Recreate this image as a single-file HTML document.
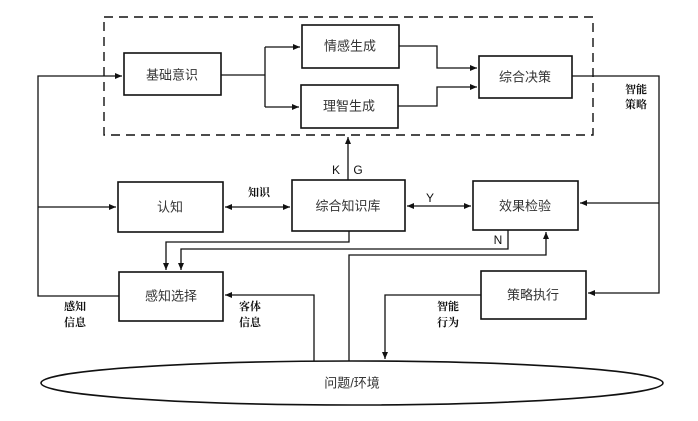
<!DOCTYPE html>
<html><head><meta charset="utf-8"><style>
html,body{margin:0;padding:0;background:#fff;}
svg{display:block;}
.b{fill:#fff;stroke:#111;stroke-width:1.6;}
.l{fill:none;stroke:#111;stroke-width:1.3;}
.t{font-family:"Liberation Sans","Noto Sans CJK SC",sans-serif;font-size:13px;fill:#333;text-anchor:middle;dominant-baseline:central;}
.s{font-family:"Liberation Serif","Noto Serif CJK SC",serif;font-size:11px;font-weight:bold;fill:#111;text-anchor:middle;dominant-baseline:central;}
.k{font-family:"Liberation Sans",sans-serif;font-size:12px;fill:#111;text-anchor:middle;dominant-baseline:central;}
</style></head><body>
<svg width="698" height="421" viewBox="0 0 698 421">
<defs><marker id="a" markerWidth="8" markerHeight="8" refX="7" refY="4" orient="auto-start-reverse" markerUnits="userSpaceOnUse"><path d="M0,1 L7,4 L0,7 z" fill="#111"/></marker></defs>
<rect x="104" y="17" width="489" height="118" fill="none" stroke="#111" stroke-width="1.4" stroke-dasharray="9,6"/>
<rect class="b" x="124" y="53" width="97" height="42"/><text class="t" x="172" y="75">基础意识</text>
<rect class="b" x="302" y="25" width="97" height="43"/><text class="t" x="350" y="46">情感生成</text>
<rect class="b" x="301" y="85" width="97" height="43"/><text class="t" x="349" y="106">理智生成</text>
<rect class="b" x="479" y="56" width="93" height="42"/><text class="t" x="525" y="77">综合决策</text>
<rect class="b" x="118" y="182" width="105" height="50"/><text class="t" x="170" y="207">认知</text>
<rect class="b" x="292" y="180" width="113" height="51"/><text class="t" x="348" y="206">综合知识库</text>
<rect class="b" x="473" y="181" width="105" height="49"/><text class="t" x="525" y="206">效果检验</text>
<rect class="b" x="119" y="272" width="104" height="49"/><text class="t" x="171" y="296">感知选择</text>
<rect class="b" x="481" y="271" width="105" height="48"/><text class="t" x="533" y="295">策略执行</text>
<ellipse cx="352" cy="383" rx="311" ry="22" class="b" stroke-width="1.3"/><text class="t" x="352" y="383">问题/环境</text>
<!-- top flows -->
<path class="l" d="M221 75 H265"/>
<path class="l" d="M265 47 V107"/>
<path class="l" d="M265 47 H300" marker-end="url(#a)"/>
<path class="l" d="M265 107 H299" marker-end="url(#a)"/>
<path class="l" d="M399 46 H437 V68 H477" marker-end="url(#a)"/>
<path class="l" d="M398 106 H437 V87 H477" marker-end="url(#a)"/>
<path class="l" d="M572 76 H659 V293 H588" marker-end="url(#a)"/>
<path class="l" d="M659 203 H580" marker-end="url(#a)"/>
<!-- left loop -->
<path class="l" d="M119 296 H38 V76 H122" marker-end="url(#a)"/>
<path class="l" d="M38 207 H116" marker-end="url(#a)"/>
<!-- KG -->
<path class="l" d="M348 180 V137" marker-end="url(#a)"/>
<text class="k" x="336" y="170">K</text><text class="k" x="358" y="170">G</text>
<path class="l" d="M225 207 H290" marker-start="url(#a)" marker-end="url(#a)"/>
<text class="s" x="259" y="193">知识</text>
<path class="l" d="M407 206 H471" marker-start="url(#a)" marker-end="url(#a)"/>
<text class="k" x="430" y="198">Y</text>
<path class="l" d="M349 231 V242 H166 V270" marker-end="url(#a)"/>
<path class="l" d="M508 230 V249 H181 V270" marker-end="url(#a)"/>
<text class="k" x="498" y="240">N</text>
<path class="l" d="M314 361 V295 H225" marker-end="url(#a)"/>
<path class="l" d="M349 361 V255 H546 V232" marker-end="url(#a)"/>
<path class="l" d="M481 295 H385 V359" marker-end="url(#a)"/>
<text class="s" x="636" y="90">智能</text><text class="s" x="636" y="105">策略</text>
<text class="s" x="75" y="307">感知</text><text class="s" x="75" y="323">信息</text>
<text class="s" x="250" y="307">客体</text><text class="s" x="250" y="323">信息</text>
<text class="s" x="448" y="307">智能</text><text class="s" x="448" y="323">行为</text>
</svg>
</body></html>
